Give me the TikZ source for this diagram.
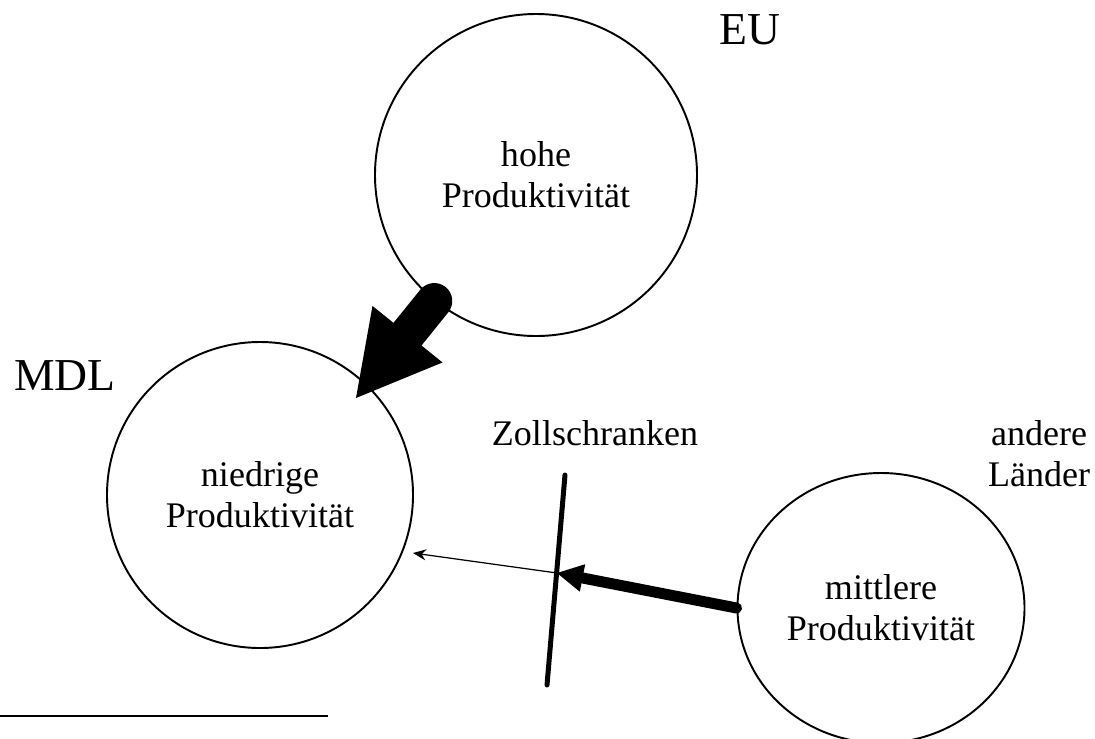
\documentclass[tikz,border=0pt]{standalone}
\usepackage{fontspec}
\setmainfont{Liberation Serif}
\usepackage{tikz}
\usetikzlibrary{arrows.meta,shapes.geometric}
\tikzstyle{region}=[draw, line width=1.1pt, inner sep=0pt, align=center, font=\fontsize{20.5pt}{23.5pt}\selectfont]
\tikzstyle{lbl}=[inner sep=0pt, align=center, font=\fontsize{20.5pt}{23.5pt}\selectfont]
\tikzstyle{biglbl}=[inner sep=0pt, font=\fontsize{26pt}{30pt}\selectfont]
\tikzstyle{big>}=[line width=7.2mm, line cap=round, -{Triangle[length=16.4mm,width=18mm,line width=0pt]}]
\tikzstyle{heavy>}=[line width=2.2mm, line cap=round, -{Triangle[length=5.2mm,width=5.6mm,line width=0pt]}]
\tikzstyle{light>}=[line width=0.7pt, -{Stealth[length=2.6mm,width=2.2mm]}]

\begin{document}
\begin{tikzpicture}[x=0.2mm,y=-0.2mm]
\useasboundingbox (0,0) rectangle (1095,738);
% the three groups of countries
\node[region,circle,minimum size=64.4mm] (eu) at (536,175) {hohe\\Produktivität};
\node[region,circle,minimum size=61.2mm] (mdl) at (260,495) {niedrige\\Produktivität};
\node[region,ellipse,minimum width=57.4mm,minimum height=54mm] (rest) at (881,608) {mittlere\\Produktivität};
\node[biglbl,anchor=base] (eulbl) at (750,44) {EU};
\node[biglbl,anchor=base] (mdllbl) at (65,390) {MDL};
\node[lbl,anchor=base] (zoll) at (595,445) {Zollschranken};
\node[lbl,anchor=north] (restlbl) at (1039,420) {andere\\Länder};
\coordinate (bigtip) at (356,398);
\coordinate (gate) at (557,573);
\coordinate (mdlin) at (413,553);
\coordinate (bartop) at (565,475);
\coordinate (barbot) at (547,685);
\draw[big>] (eu) -- (bigtip);
\draw[heavy>] (rest.west) -- (gate);
\draw[light>] (gate) -- (mdlin);
\draw[line width=1mm,line cap=round] (bartop) -- (barbot);
\draw[line width=0.4mm] (0,716) -- (328,716);
\end{tikzpicture}
\end{document}
